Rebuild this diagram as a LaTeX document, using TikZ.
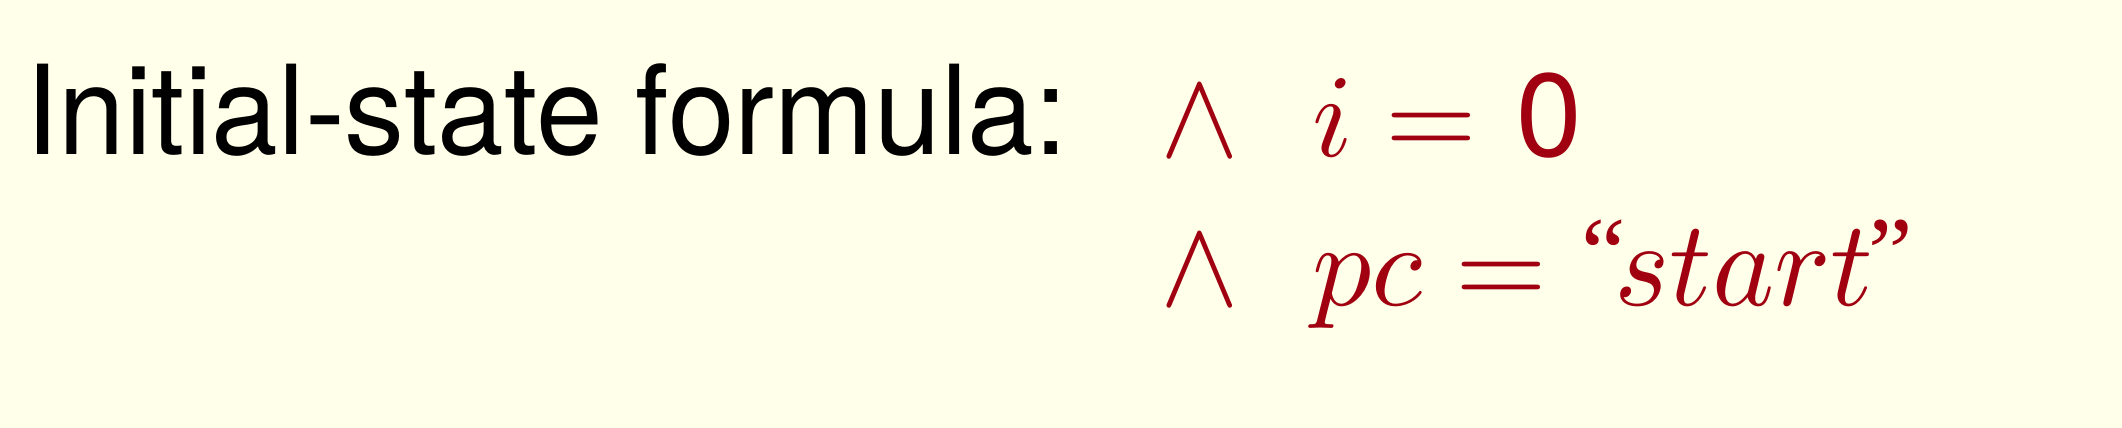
\documentclass[tikz,border=0pt]{standalone}
\usepackage{fontspec}
\setsansfont{TeX Gyre Heros}
\newfontfamily\quotefont{Liberation Serif}
\definecolor{bg}{RGB}{255,255,234}
\definecolor{tlared}{RGB}{160,0,16}
\newcommand{\hugemath}[1]{\scalebox{11.8}{$#1$}}
\newcommand{\hugewedge}{\scalebox{11.8}[12.45]{$\wedge$}}
\begin{document}
\begin{tikzpicture}[x=1pt,y=1pt,
  txt/.style={inner sep=0pt, anchor=base west},
  lbl/.style={txt, font=\fontsize{124}{130}\sffamily},
  fml/.style={txt, text=tlared, font=\fontsize{10}{12}\selectfont},
  qt/.style={txt, text=tlared, font=\fontsize{100}{110}\quotefont}]
\fill[bg] (0,0) rectangle (2122,-428);
\useasboundingbox (0,0) rectangle (2122,-428);
\node[lbl] (label) at (25,-154) {\scalebox{0.967}[1]{Initial-state formula:}};
\node[fml] (w1) at (1160,-156) {\hugewedge};
\node[fml] (c1) at (1312,-156) {\hugemath{i = \mkern1mu\textsf{0}}};
\node[fml] (w2) at (1160,-305) {\hugewedge};
\node[fml] (c2) at (1312,-305) {\hugemath{pc =}};
\node[qt] (q1) at (1581,-286) {“};
\node[fml] (s2) at (1614,-305) {\scalebox{11.8}[12.2]{$start$}};
\node[qt] (q2) at (1868,-286) {”};
\end{tikzpicture}
\end{document}
